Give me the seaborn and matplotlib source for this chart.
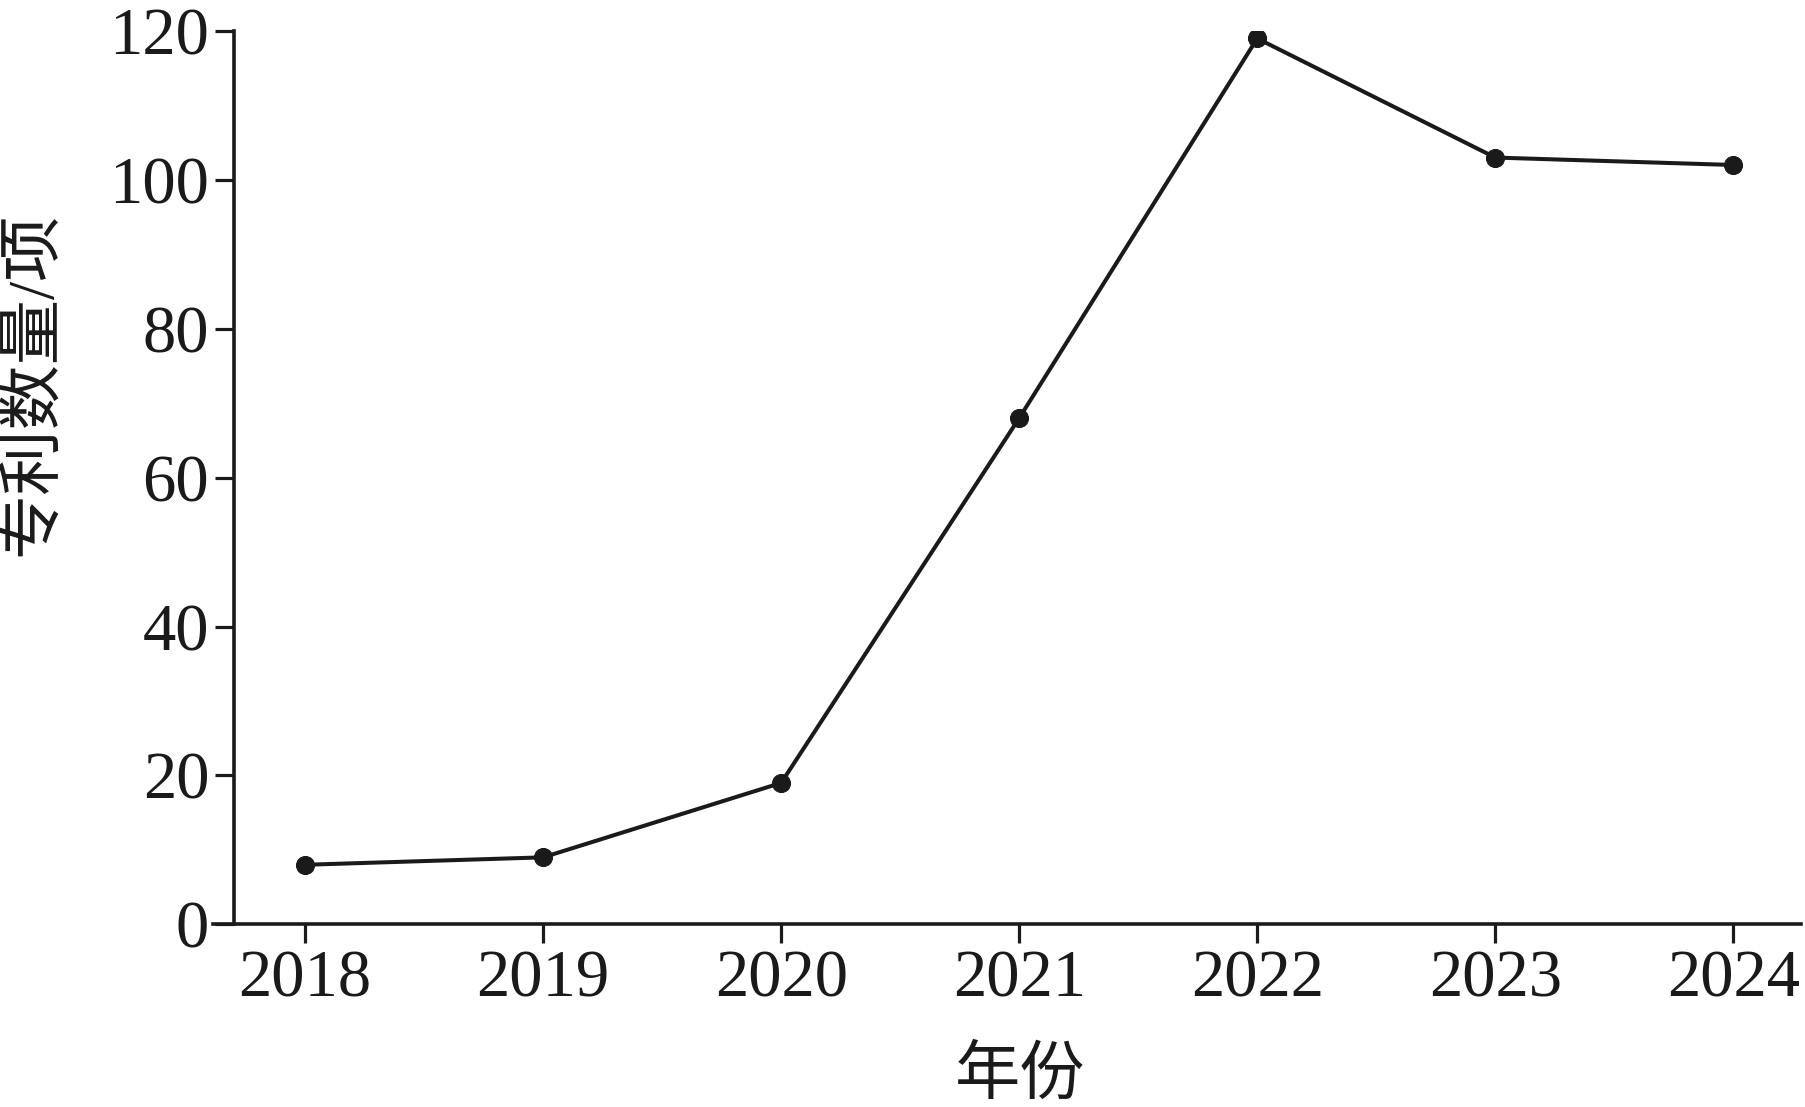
import matplotlib
matplotlib.use("Agg")
import matplotlib.pyplot as plt
import seaborn as sns
import pandas as pd

years = ["2018", "2019", "2020", "2021", "2022", "2023", "2024"]
patents = [8, 9, 19, 68, 119, 103, 102]
y_ticks = [0, 20, 40, 60, 80, 100, 120]
x_label = "年份"
y_label = "专利数量/项"

sns.set_style("ticks")
plt.rcParams["font.family"] = ["Liberation Serif", "Noto Sans CJK SC"]

ink = "#1a1a1a"
df = pd.DataFrame({"year": list(range(len(years))), "count": patents})

fig = plt.figure(figsize=(18.05, 11.07), dpi=100)
ax = fig.add_axes([0.118, 0.165, 0.880, 0.807])

sns.lineplot(data=df, x="year", y="count", ax=ax, color=ink, linewidth=2.9,
             marker="o", markersize=13, markeredgecolor=ink, markerfacecolor=ink)

ax.set_xlim(-0.387, 6.286)
ax.set_ylim(0, 120)
ax.set_xticks(range(len(years)))
ax.set_xticklabels(years)
ax.set_yticks(y_ticks)
ax.set_yticklabels([str(v) for v in y_ticks])

for s in ["top", "right"]:
    ax.spines[s].set_visible(False)
ax.spines["left"].set_position(("data", -0.298))
for s in ["left", "bottom"]:
    ax.spines[s].set_linewidth(2.6)
    ax.spines[s].set_color(ink)

ax.tick_params(axis="both", which="major", length=14, width=2.3, color=ink,
               labelsize=48, labelcolor=ink, pad=4, direction="out")

ax.set_xlabel(x_label, fontsize=47, color=ink)
ax.xaxis.label.set_va("center")
ax.xaxis.set_label_coords(0.508, -0.172)
ax.set_ylabel(y_label, fontsize=47, color=ink, va="center")
ax.yaxis.set_label_coords(-0.113, 0.605)

fig.savefig("out.png", dpi=100, facecolor="white")
